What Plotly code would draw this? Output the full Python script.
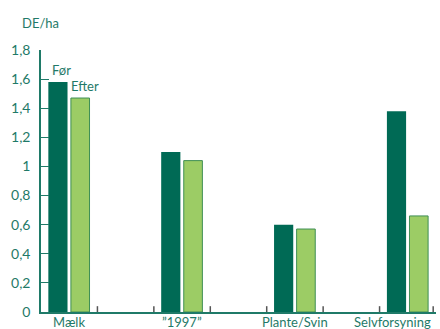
import plotly.graph_objects as go

categories = ["Mælk", "\u201d1997\u201d", "Plante/Svin", "Selvforsyning"]
foer = [1.58, 1.10, 0.60, 1.38]
efter = [1.47, 1.04, 0.57, 0.66]
y_ticks = [0, 0.2, 0.4, 0.6, 0.8, 1.0, 1.2, 1.4, 1.6, 1.8]
y_ticktext = ["0", "0,2", "0,4", "0,6", "0,8", "1", "1,2", "1,4", "1,6", "1,8"]
label_pos = [0, 2, 4, 5.73]
boundaries = [0.5, 1.5, 2.5, 3.5, 4.5, 5.5, 6.45]
tick_height = 0.04

pos = [2 * i for i in range(len(categories))]
TEAL = "#1f7a68"
DARK = "#006a55"
LIGHT = "#9ccc65"
FONT = "Lato"

fig = go.Figure()
fig.add_trace(go.Bar(x=pos, y=foer, width=0.34, offset=-0.37,
                     marker=dict(color=DARK, line=dict(width=0)), name="Før"))
fig.add_trace(go.Bar(x=pos, y=efter, width=0.33, offset=0.03,
                     marker=dict(color=LIGHT, line=dict(color="#3f8f55", width=1)), name="Efter"))

# small boundary tick marks on the category axis
tx, ty = [], []
for b in boundaries:
    tx += [b, b, None]
    ty += [0, tick_height, None]
fig.add_trace(go.Scatter(x=tx, y=ty, mode="lines", line=dict(color="#555555", width=1.5),
                         hoverinfo="skip", showlegend=False, cliponaxis=False))

fig.add_annotation(x=-0.34, y=foer[0], xref="x", yref="y", text="Før", showarrow=False,
                   xanchor="left", yanchor="bottom", yshift=2,
                   font=dict(family=FONT, size=13, color=TEAL))
fig.add_annotation(x=0.0, y=efter[0], xref="x", yref="y", text="Efter", showarrow=False,
                   xanchor="left", yanchor="bottom", yshift=2,
                   font=dict(family=FONT, size=13, color=TEAL))
fig.add_annotation(xref="paper", yref="paper", x=-0.052, y=1.0, xanchor="left",
                   yanchor="bottom", yshift=17, text="DE/ha", showarrow=False,
                   font=dict(family=FONT, size=13, color=TEAL))
for lp, cat in zip(label_pos, categories):
    fig.add_annotation(x=lp, y=0, xref="x", yref="y", text=cat, showarrow=False,
                       xanchor="center", yanchor="top", yshift=0,
                       font=dict(family=FONT, size=13, color=TEAL))

fig.update_layout(
    width=440, height=329,
    margin=dict(l=41, r=4, t=50, b=17),
    paper_bgcolor="white", plot_bgcolor="white",
    barmode="overlay", showlegend=False,
    font=dict(family=FONT, size=13, color=TEAL),
    xaxis=dict(
        range=[-0.5, 6.5], showticklabels=False, ticks="",
        showline=True, linecolor=TEAL, linewidth=1.5,
        showgrid=False, zeroline=False, automargin=False,
    ),
)
fig.update_yaxes(
    range=[0, 1.8], tickmode="array", tickvals=y_ticks, ticktext=y_ticktext,
    ticks="inside", ticklen=8, tickcolor=TEAL, tickwidth=1,
    showline=True, linecolor=TEAL, linewidth=1.5, showgrid=False, zeroline=False,
    tickfont=dict(family=FONT, size=14, color=TEAL), ticklabelstandoff=6,
    automargin=False,
)

fig.write_html("out.html")
